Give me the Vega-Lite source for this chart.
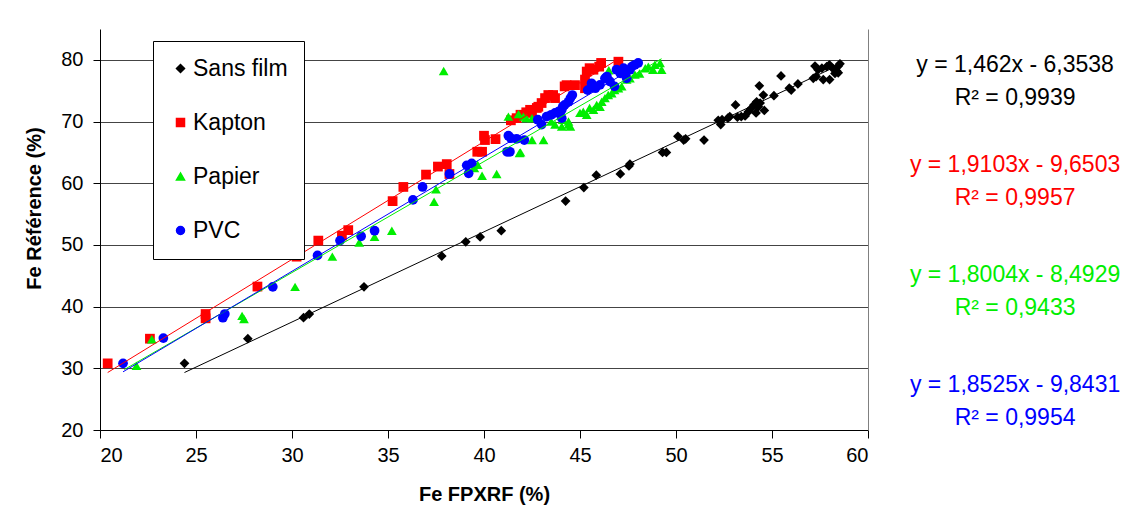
{
  "$schema": "https://vega.github.io/schema/vega-lite/v6.json",
  "width": 768,
  "height": 401,
  "autosize": {"type": "none"},
  "padding": {"left": 100, "top": 29, "right": 257, "bottom": 84},
  "background": "white",
  "config": {"font": "Liberation Sans", "view": {"stroke": null}},
  "datasets": {
    "pts": [
      {"series": "Sans film", "x": 24.4, "y": 30.8}, {"series": "Sans film", "x": 27.7, "y": 34.8}, {"series": "Sans film", "x": 30.6, "y": 38.2}, {"series": "Sans film", "x": 30.9, "y": 38.8},
      {"series": "Sans film", "x": 33.75, "y": 43.2}, {"series": "Sans film", "x": 37.8, "y": 48.2}, {"series": "Sans film", "x": 39.05, "y": 50.5}, {"series": "Sans film", "x": 39.8, "y": 51.3},
      {"series": "Sans film", "x": 40.9, "y": 52.3}, {"series": "Sans film", "x": 44.25, "y": 57.1}, {"series": "Sans film", "x": 45.2, "y": 59.3}, {"series": "Sans film", "x": 45.85, "y": 61.3},
      {"series": "Sans film", "x": 47.1, "y": 61.5}, {"series": "Sans film", "x": 47.55, "y": 62.8}, {"series": "Sans film", "x": 47.6, "y": 63.1}, {"series": "Sans film", "x": 49.3, "y": 65.0},
      {"series": "Sans film", "x": 49.5, "y": 65.0}, {"series": "Sans film", "x": 50.1, "y": 67.6}, {"series": "Sans film", "x": 50.4, "y": 67.0}, {"series": "Sans film", "x": 50.5, "y": 67.2},
      {"series": "Sans film", "x": 51.46, "y": 67.0}, {"series": "Sans film", "x": 52.2, "y": 70.2}, {"series": "Sans film", "x": 52.33, "y": 69.5}, {"series": "Sans film", "x": 52.4, "y": 70.3},
      {"series": "Sans film", "x": 52.7, "y": 70.55}, {"series": "Sans film", "x": 52.8, "y": 70.8}, {"series": "Sans film", "x": 53.1, "y": 72.7}, {"series": "Sans film", "x": 53.2, "y": 70.7},
      {"series": "Sans film", "x": 53.4, "y": 70.8}, {"series": "Sans film", "x": 53.6, "y": 70.9}, {"series": "Sans film", "x": 53.77, "y": 71.6}, {"series": "Sans film", "x": 53.94, "y": 72.2},
      {"series": "Sans film", "x": 54.06, "y": 72.7}, {"series": "Sans film", "x": 54.2, "y": 73.2}, {"series": "Sans film", "x": 54.29, "y": 72.4}, {"series": "Sans film", "x": 54.38, "y": 73.0},
      {"series": "Sans film", "x": 54.17, "y": 71.4}, {"series": "Sans film", "x": 54.34, "y": 75.8}, {"series": "Sans film", "x": 54.55, "y": 74.3}, {"series": "Sans film", "x": 54.6, "y": 71.8},
      {"series": "Sans film", "x": 55.1, "y": 74.2}, {"series": "Sans film", "x": 55.47, "y": 77.4}, {"series": "Sans film", "x": 55.9, "y": 75.4}, {"series": "Sans film", "x": 56.0, "y": 75.1},
      {"series": "Sans film", "x": 56.35, "y": 76.1}, {"series": "Sans film", "x": 57.24, "y": 79.0}, {"series": "Sans film", "x": 57.4, "y": 78.4}, {"series": "Sans film", "x": 57.6, "y": 78.65},
      {"series": "Sans film", "x": 57.85, "y": 78.9}, {"series": "Sans film", "x": 57.99, "y": 79.2}, {"series": "Sans film", "x": 58.2, "y": 78.5}, {"series": "Sans film", "x": 58.45, "y": 79.0},
      {"series": "Sans film", "x": 58.54, "y": 79.35}, {"series": "Sans film", "x": 57.15, "y": 77.0}, {"series": "Sans film", "x": 57.3, "y": 77.3}, {"series": "Sans film", "x": 57.67, "y": 76.8},
      {"series": "Sans film", "x": 58.0, "y": 76.8}, {"series": "Sans film", "x": 58.28, "y": 77.8}, {"series": "Sans film", "x": 58.37, "y": 78.2}, {"series": "Sans film", "x": 58.45, "y": 77.9},

      {"series": "Kapton", "x": 20.4, "y": 30.8}, {"series": "Kapton", "x": 22.6, "y": 34.8}, {"series": "Kapton", "x": 25.5, "y": 38.8}, {"series": "Kapton", "x": 25.5, "y": 38.1},
      {"series": "Kapton", "x": 28.2, "y": 43.25}, {"series": "Kapton", "x": 30.24, "y": 48.1}, {"series": "Kapton", "x": 31.37, "y": 50.7}, {"series": "Kapton", "x": 32.6, "y": 51.5},
      {"series": "Kapton", "x": 32.93, "y": 52.4}, {"series": "Kapton", "x": 35.24, "y": 57.1}, {"series": "Kapton", "x": 35.8, "y": 59.4}, {"series": "Kapton", "x": 36.98, "y": 61.4},
      {"series": "Kapton", "x": 37.6, "y": 62.7}, {"series": "Kapton", "x": 38.06, "y": 63.1}, {"series": "Kapton", "x": 38.2, "y": 61.5}, {"series": "Kapton", "x": 39.65, "y": 65.1},
      {"series": "Kapton", "x": 39.9, "y": 65.1}, {"series": "Kapton", "x": 40.0, "y": 67.7}, {"series": "Kapton", "x": 40.05, "y": 67.0}, {"series": "Kapton", "x": 40.6, "y": 67.15},
      {"series": "Kapton", "x": 41.7, "y": 70.55}, {"series": "Kapton", "x": 41.9, "y": 71.1}, {"series": "Kapton", "x": 42.2, "y": 71.5}, {"series": "Kapton", "x": 42.5, "y": 71.4},
      {"series": "Kapton", "x": 42.75, "y": 72.2}, {"series": "Kapton", "x": 42.4, "y": 71.9}, {"series": "Kapton", "x": 42.83, "y": 72.4}, {"series": "Kapton", "x": 43.0, "y": 73.0},
      {"series": "Kapton", "x": 43.18, "y": 73.8}, {"series": "Kapton", "x": 43.35, "y": 74.3}, {"series": "Kapton", "x": 43.6, "y": 74.3}, {"series": "Kapton", "x": 43.7, "y": 73.8},
      {"series": "Kapton", "x": 44.2, "y": 75.7}, {"series": "Kapton", "x": 44.3, "y": 75.9}, {"series": "Kapton", "x": 44.74, "y": 75.9}, {"series": "Kapton", "x": 45.26, "y": 76.8},
      {"series": "Kapton", "x": 45.35, "y": 78.1}, {"series": "Kapton", "x": 45.5, "y": 78.65}, {"series": "Kapton", "x": 45.7, "y": 78.4}, {"series": "Kapton", "x": 46.0, "y": 78.9},
      {"series": "Kapton", "x": 46.1, "y": 79.5}, {"series": "Kapton", "x": 47.0, "y": 79.7}, {"series": "Kapton", "x": 45.26, "y": 75.4}, {"series": "Kapton", "x": 45.6, "y": 75.7},
      {"series": "Kapton", "x": 41.4, "y": 70.2},

      {"series": "Papier", "x": 21.9, "y": 30.4}, {"series": "Papier", "x": 22.7, "y": 34.7}, {"series": "Papier", "x": 27.4, "y": 38.5}, {"series": "Papier", "x": 27.5, "y": 38.0},
      {"series": "Papier", "x": 30.16, "y": 43.2}, {"series": "Papier", "x": 32.1, "y": 48.1}, {"series": "Papier", "x": 33.5, "y": 50.4}, {"series": "Papier", "x": 34.3, "y": 51.3},
      {"series": "Papier", "x": 35.2, "y": 52.3}, {"series": "Papier", "x": 37.4, "y": 57.0}, {"series": "Papier", "x": 37.5, "y": 59.0}, {"series": "Papier", "x": 39.5, "y": 62.45},
      {"series": "Papier", "x": 37.9, "y": 78.2}, {"series": "Papier", "x": 39.67, "y": 63.0}, {"series": "Papier", "x": 39.9, "y": 61.2}, {"series": "Papier", "x": 40.66, "y": 61.5},
      {"series": "Papier", "x": 41.9, "y": 65.0}, {"series": "Papier", "x": 41.85, "y": 64.9}, {"series": "Papier", "x": 41.27, "y": 70.8}, {"series": "Papier", "x": 41.8, "y": 71.2},
      {"series": "Papier", "x": 42.2, "y": 70.55}, {"series": "Papier", "x": 42.5, "y": 67.0}, {"series": "Papier", "x": 42.5, "y": 70.55}, {"series": "Papier", "x": 42.05, "y": 70.8},
      {"series": "Papier", "x": 43.1, "y": 67.0}, {"series": "Papier", "x": 43.5, "y": 70.0}, {"series": "Papier", "x": 43.7, "y": 69.5}, {"series": "Papier", "x": 44.05, "y": 69.2},
      {"series": "Papier", "x": 44.1, "y": 70.3}, {"series": "Papier", "x": 44.4, "y": 70.0}, {"series": "Papier", "x": 44.5, "y": 69.2}, {"series": "Papier", "x": 44.4, "y": 69.5},
      {"series": "Papier", "x": 45.0, "y": 71.4}, {"series": "Papier", "x": 45.17, "y": 71.6}, {"series": "Papier", "x": 45.35, "y": 71.1}, {"series": "Papier", "x": 45.5, "y": 72.2},
      {"series": "Papier", "x": 45.7, "y": 71.9}, {"series": "Papier", "x": 45.87, "y": 72.7}, {"series": "Papier", "x": 46.04, "y": 72.4}, {"series": "Papier", "x": 46.13, "y": 73.2},
      {"series": "Papier", "x": 46.3, "y": 73.8}, {"series": "Papier", "x": 46.47, "y": 74.3}, {"series": "Papier", "x": 46.65, "y": 74.6}, {"series": "Papier", "x": 46.8, "y": 75.1},
      {"series": "Papier", "x": 47.0, "y": 75.4}, {"series": "Papier", "x": 47.17, "y": 75.7}, {"series": "Papier", "x": 47.43, "y": 76.8}, {"series": "Papier", "x": 47.6, "y": 77.0},
      {"series": "Papier", "x": 47.86, "y": 77.6}, {"series": "Papier", "x": 48.1, "y": 77.8}, {"series": "Papier", "x": 48.4, "y": 78.65}, {"series": "Papier", "x": 48.56, "y": 78.9},
      {"series": "Papier", "x": 48.8, "y": 78.4}, {"series": "Papier", "x": 48.9, "y": 79.2}, {"series": "Papier", "x": 49.17, "y": 79.5}, {"series": "Papier", "x": 49.25, "y": 78.4},
      {"series": "Papier", "x": 46.5, "y": 78.3}, {"series": "Papier", "x": 47.3, "y": 78.6},

      {"series": "PVC", "x": 21.2, "y": 30.8}, {"series": "PVC", "x": 23.3, "y": 34.9}, {"series": "PVC", "x": 26.4, "y": 38.2}, {"series": "PVC", "x": 26.5, "y": 38.8},
      {"series": "PVC", "x": 29.0, "y": 43.2}, {"series": "PVC", "x": 31.33, "y": 48.3}, {"series": "PVC", "x": 32.5, "y": 50.7}, {"series": "PVC", "x": 33.6, "y": 51.4},
      {"series": "PVC", "x": 34.3, "y": 52.3}, {"series": "PVC", "x": 36.3, "y": 57.3}, {"series": "PVC", "x": 36.8, "y": 59.4}, {"series": "PVC", "x": 38.2, "y": 61.5},
      {"series": "PVC", "x": 39.1, "y": 62.9}, {"series": "PVC", "x": 39.36, "y": 63.2}, {"series": "PVC", "x": 39.2, "y": 61.6}, {"series": "PVC", "x": 41.2, "y": 65.1},
      {"series": "PVC", "x": 41.35, "y": 65.1}, {"series": "PVC", "x": 41.27, "y": 67.7}, {"series": "PVC", "x": 41.4, "y": 67.3}, {"series": "PVC", "x": 41.7, "y": 67.2},
      {"series": "PVC", "x": 42.1, "y": 67.0}, {"series": "PVC", "x": 42.8, "y": 70.3}, {"series": "PVC", "x": 43.0, "y": 69.5}, {"series": "PVC", "x": 43.26, "y": 70.8},
      {"series": "PVC", "x": 43.5, "y": 71.1}, {"series": "PVC", "x": 43.7, "y": 71.4}, {"series": "PVC", "x": 43.87, "y": 71.6}, {"series": "PVC", "x": 44.05, "y": 71.9},
      {"series": "PVC", "x": 44.1, "y": 72.4}, {"series": "PVC", "x": 44.2, "y": 72.7}, {"series": "PVC", "x": 44.4, "y": 73.2}, {"series": "PVC", "x": 44.5, "y": 73.8},
      {"series": "PVC", "x": 44.6, "y": 74.3}, {"series": "PVC", "x": 44.05, "y": 70.55}, {"series": "PVC", "x": 45.6, "y": 75.7}, {"series": "PVC", "x": 45.8, "y": 75.4},
      {"series": "PVC", "x": 46.04, "y": 75.95}, {"series": "PVC", "x": 46.3, "y": 77.0}, {"series": "PVC", "x": 46.56, "y": 76.5}, {"series": "PVC", "x": 46.8, "y": 75.7},
      {"series": "PVC", "x": 46.9, "y": 78.4}, {"series": "PVC", "x": 47.1, "y": 77.8}, {"series": "PVC", "x": 47.27, "y": 78.65}, {"series": "PVC", "x": 47.43, "y": 78.1},
      {"series": "PVC", "x": 47.6, "y": 78.4}, {"series": "PVC", "x": 47.7, "y": 78.9}, {"series": "PVC", "x": 47.86, "y": 79.2}, {"series": "PVC", "x": 48.03, "y": 79.5},
      {"series": "PVC", "x": 47.43, "y": 77.0}, {"series": "PVC", "x": 46.4, "y": 77.3}, {"series": "PVC", "x": 45.6, "y": 76.2}, {"series": "PVC", "x": 45.4, "y": 75.1}
    ],
    "trend": [
      {"series": "Sans film", "x": 24.4, "y": 29.32}, {"series": "Sans film", "x": 58.5, "y": 79.17},
      {"series": "Kapton", "x": 20.4, "y": 29.32}, {"series": "Kapton", "x": 47.0, "y": 80.13},
      {"series": "Papier", "x": 21.27, "y": 29.8}, {"series": "Papier", "x": 49.25, "y": 80.18},
      {"series": "PVC", "x": 21.2, "y": 29.43}, {"series": "PVC", "x": 48.03, "y": 79.13}
    ],
    "ann": [
      {"series": "Sans film", "x": 67.66, "y": 79.19, "label": "y = 1,462x - 6,3538"},
      {"series": "Sans film", "x": 67.66, "y": 73.84, "label": "R² = 0,9939"},
      {"series": "Kapton", "x": 67.66, "y": 62.98, "label": "y = 1,9103x - 9,6503"},
      {"series": "Kapton", "x": 67.66, "y": 57.63, "label": "R² = 0,9957"},
      {"series": "Papier", "x": 67.66, "y": 45.15, "label": "y = 1,8004x - 8,4929"},
      {"series": "Papier", "x": 67.66, "y": 39.8, "label": "R² = 0,9433"},
      {"series": "PVC", "x": 67.66, "y": 27.33, "label": "y = 1,8525x - 9,8431"},
      {"series": "PVC", "x": 67.66, "y": 21.98, "label": "R² = 0,9954"}
    ]
  },
  "layer": [
    {
      "data": {"name": "pts"},
      "mark": {"type": "point", "filled": true, "opacity": 1, "size": 95},
      "encoding": {
        "x": {
          "field": "x", "type": "quantitative",
          "scale": {"domain": [20, 60], "nice": false, "zero": false},
          "axis": {
            "values": [20, 25, 30, 35, 40, 45, 50, 55, 60],
            "title": "Fe FPXRF (%)", "titleFontSize": 20, "titleFontWeight": "bold", "titleColor": "black",
            "titleY": 64, "titleBaseline": "middle",
            "labelFontSize": 20, "labelColor": "black", "labelPadding": 7,
            "domainColor": "black", "tickColor": "black", "tickSize": 8, "grid": false
          }
        },
        "y": {
          "field": "y", "type": "quantitative",
          "scale": {"domain": [20, 85], "nice": false, "zero": false},
          "axis": {
            "values": [20, 30, 40, 50, 60, 70, 80],
            "title": "Fe Référence (%)", "titleFontSize": 20, "titleFontWeight": "bold", "titleColor": "black",
            "titleAngle": 270, "titleX": -66, "titleY": 179, "titleAlign": "center", "titleBaseline": "middle",
            "labelFontSize": 20, "labelColor": "black", "labelPadding": 10,
            "domainColor": "black", "tickColor": "black", "tickSize": 7,
            "grid": true, "gridColor": "#444444", "gridWidth": 1
          }
        },
        "color": {
          "field": "series", "type": "nominal",
          "scale": {"domain": ["Sans film", "Kapton", "Papier", "PVC"], "range": ["#000000", "#ff0000", "#00ee00", "#0000ff"]},
          "legend": {
            "orient": "none", "legendX": 53, "legendY": 12, "title": null,
            "strokeColor": "black", "fillColor": "white", "padding": 16,
            "labelFontSize": 23, "labelColor": "black", "symbolSize": 64,
            "rowPadding": 30, "labelOffset": 1
          }
        },
        "shape": {
          "field": "series", "type": "nominal",
          "scale": {"domain": ["Sans film", "Kapton", "Papier", "PVC"], "range": ["diamond", "square", "triangle-up", "circle"]}
        }
      }
    },
    {
      "data": {"name": "trend"},
      "mark": {"type": "line", "strokeWidth": 1},
      "encoding": {
        "x": {"field": "x", "type": "quantitative"},
        "y": {
          "field": "y", "type": "quantitative",
          "axis": {"orient": "right", "labels": false, "ticks": false, "grid": false, "title": null, "domainColor": "#808080"}
        },
        "color": {"field": "series", "type": "nominal"},
        "detail": {"field": "series"}
      }
    },
    {
      "data": {"name": "ann"},
      "mark": {"type": "text", "fontSize": 23, "align": "center", "baseline": "middle"},
      "encoding": {
        "x": {"field": "x", "type": "quantitative"},
        "y": {"field": "y", "type": "quantitative", "axis": null},
        "text": {"field": "label"},
        "color": {"field": "series", "type": "nominal"}
      }
    }
  ],
  "resolve": {"axis": {"y": "independent"}}
}
